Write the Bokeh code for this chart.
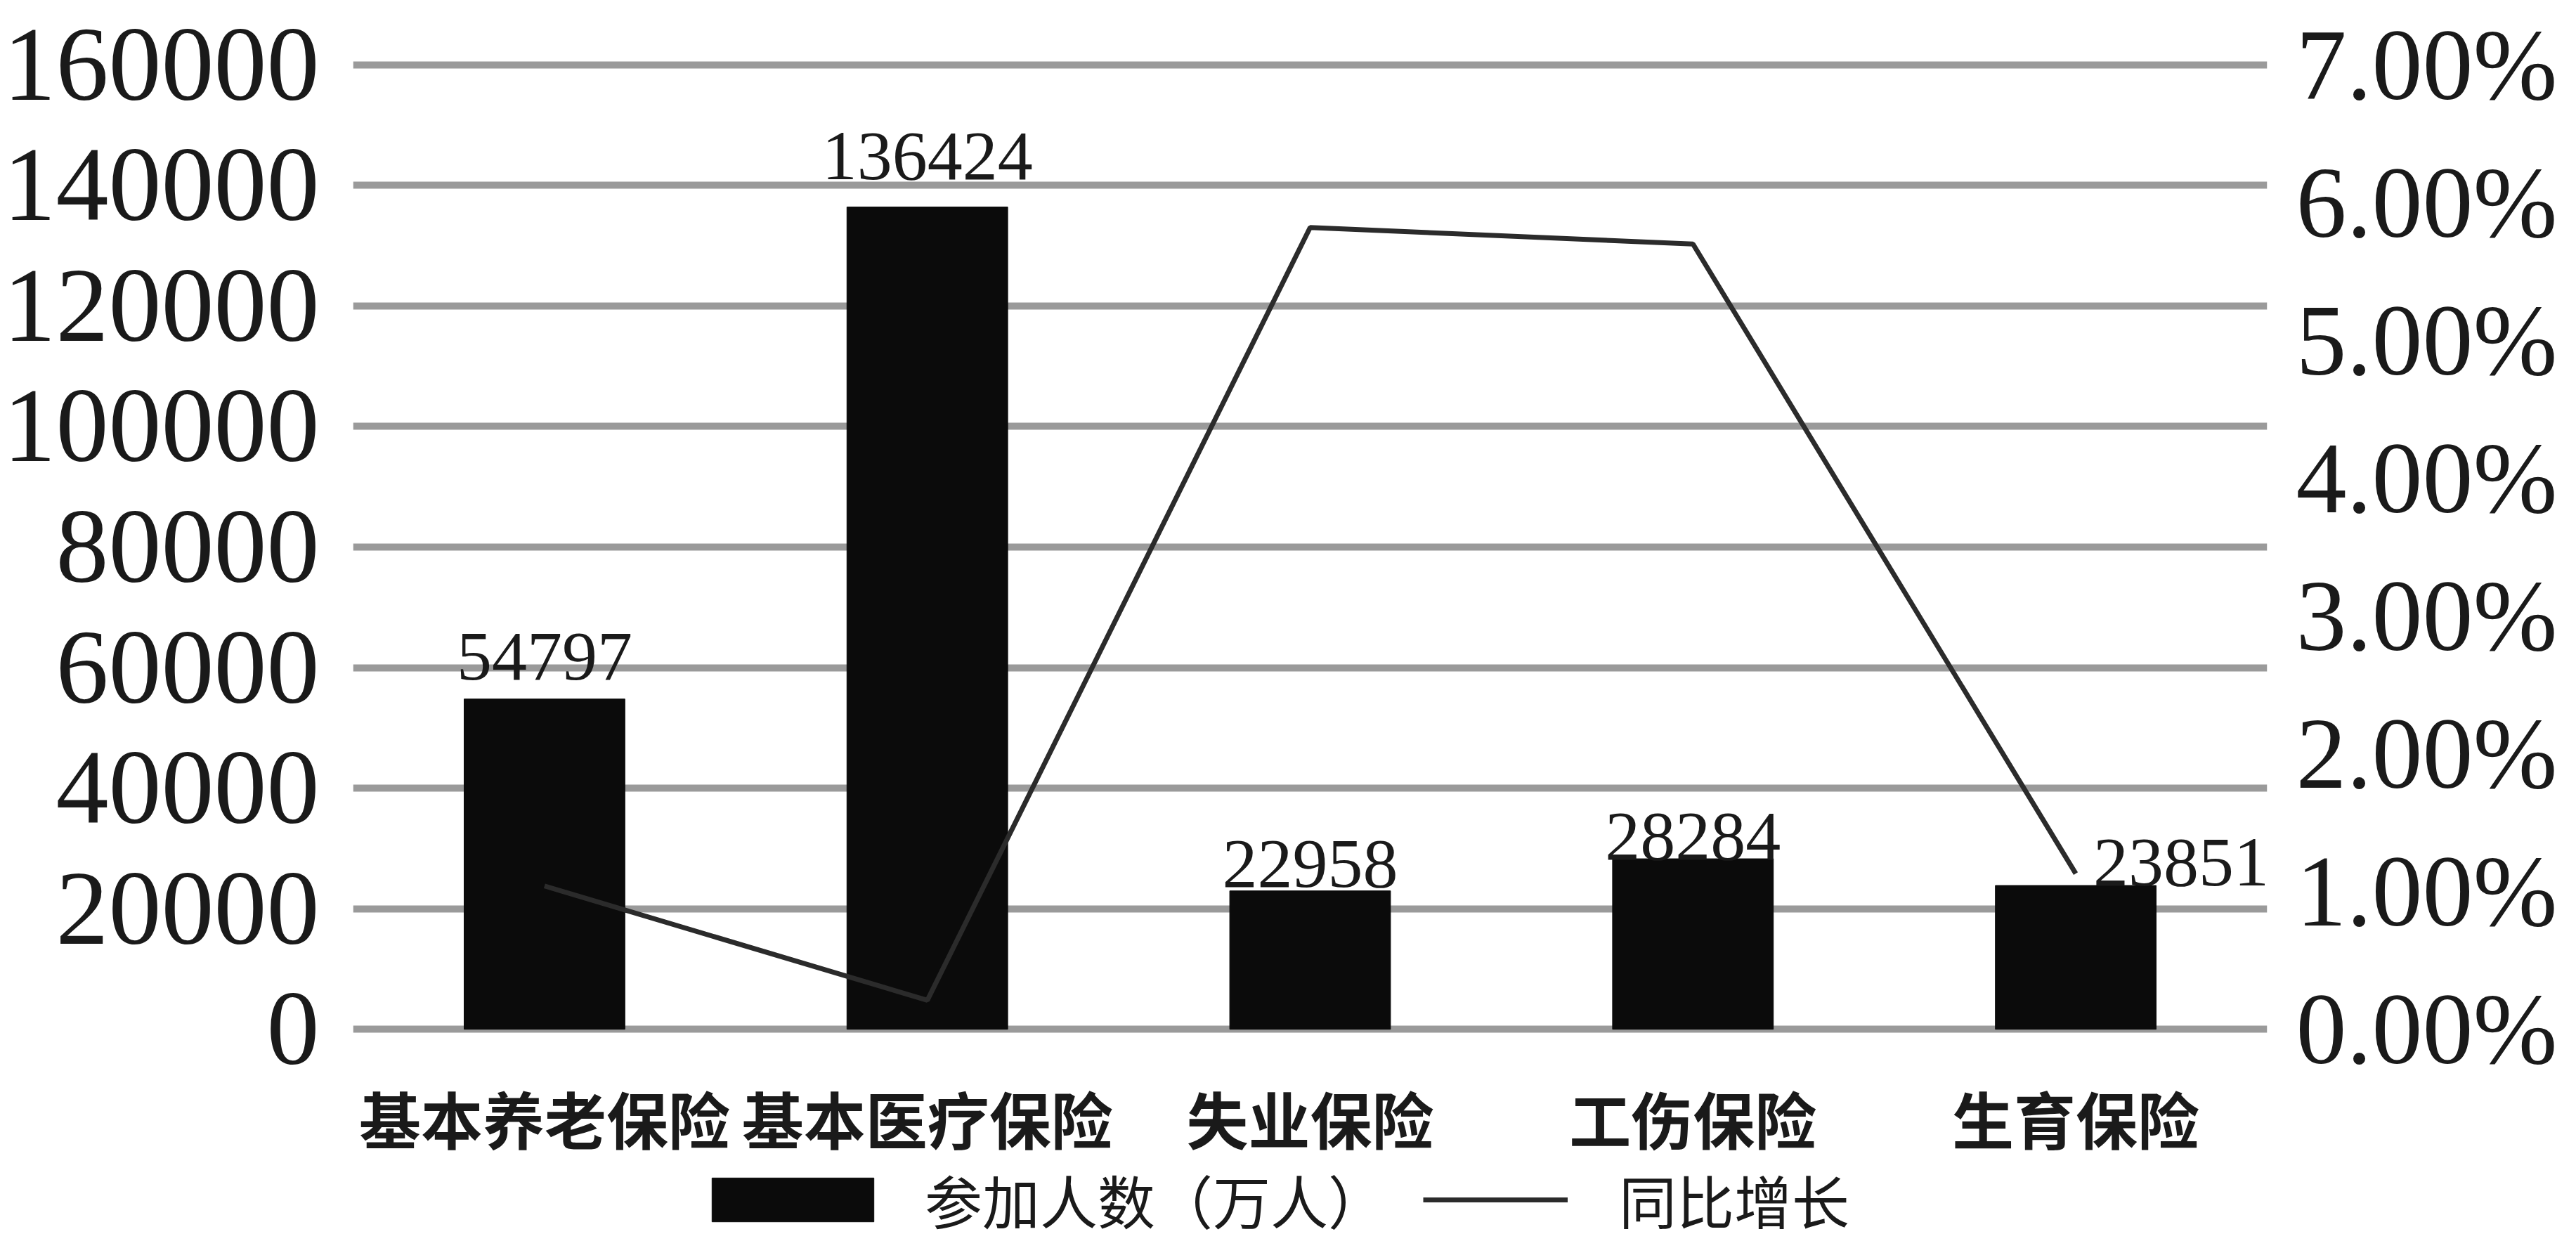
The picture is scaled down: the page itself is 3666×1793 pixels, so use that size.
from bokeh.plotting import figure
from bokeh.layouts import column
from bokeh.models import (Range1d, LinearAxis, FixedTicker, NumeralTickFormatter,
                          Legend, LegendItem, ColumnDataSource)
from bokeh.core.properties import value
from bokeh.embed import file_html
from bokeh.resources import INLINE

# ---- data ----
categories = ["基本养老保险", "基本医疗保险", "失业保险", "工伤保险", "生育保险"]
participants = [54797, 136424, 22958, 28284, 23851]      # 参加人数（万人）
growth_pct = [1.04, 0.21, 5.82, 5.70, 1.13]              # 同比增长 (%)
left_ticks = [0, 20000, 40000, 60000, 80000, 100000, 120000, 140000, 160000]
right_ticks_pct = [0, 1, 2, 3, 4, 5, 6, 7]
legend_labels = ["参加人数（万人）", "同比增长"]

# label placement (style only, screen px)
label_dx = [0, 0, 0, 0, 150]
label_dy = [-60, -72, -38, -32, -33]

BAR_COLOR = "#0b0b0b"
LINE_COLOR = "#2b2b2b"

src = ColumnDataSource(dict(
    cat=categories,
    val=participants,
    pct=[g / 100 for g in growth_pct],
    label=[str(v) for v in participants],
    dx=label_dx,
    dy=label_dy,
))

# small pad so that the 0 and 160000 grid lines are drawn
pad = 1500
ymax = left_ticks[-1]
pmax = right_ticks_pct[-1] / 100

p = figure(x_range=categories, y_range=Range1d(-pad, ymax + pad),
           width=3650, height=1665, output_backend="svg", toolbar_location=None,
           min_border_left=502, min_border_right=424, min_border_top=79,
           min_border_bottom=188)
p.extra_y_ranges = {"pct": Range1d(-pad / ymax * pmax, (ymax + pad) / ymax * pmax)}
p.outline_line_color = None
p.background_fill_color = "white"

bars = p.vbar(x="cat", top="val", bottom=0, width=0.42, source=src,
              fill_color=BAR_COLOR, line_color=BAR_COLOR)
line = p.line(x="cat", y="pct", y_range_name="pct", source=src,
              line_color=LINE_COLOR, line_width=7)

p.text(x="cat", y="val", text="label", source=src, x_offset="dx", y_offset="dy",
       text_align="center", text_baseline="alphabetic",
       text_font=value("Liberation Serif"), text_font_size="100px",
       text_color="#1a1a1a")

# left axis
yax = p.yaxis[0]
yax.ticker = FixedTicker(ticks=left_ticks)
yax.formatter = NumeralTickFormatter(format="0")
yax.major_label_text_font = "Liberation Serif"
yax.major_label_text_font_size = "150px"
yax.major_label_text_color = "#1a1a1a"
yax.major_label_standoff = 42
yax.axis_line_color = None
yax.major_tick_line_color = None
yax.minor_tick_line_color = None

# right axis
rax = LinearAxis(y_range_name="pct",
                 ticker=FixedTicker(ticks=[t / 100 for t in right_ticks_pct]),
                 formatter=NumeralTickFormatter(format="0.00%"))
rax.major_label_text_font = "Liberation Serif"
rax.major_label_text_font_size = "144px"
rax.major_label_text_color = "#1a1a1a"
rax.major_label_standoff = 35
rax.axis_line_color = None
rax.major_tick_line_color = None
rax.minor_tick_line_color = None
p.add_layout(rax, "right")

# x axis
xax = p.xaxis[0]
xax.major_label_text_font = "Noto Sans CJK SC"
xax.major_label_text_font_style = "bold"
xax.major_label_text_font_size = "88px"
xax.major_label_text_color = "#1a1a1a"
xax.major_label_standoff = 42
xax.axis_line_color = None
xax.major_tick_line_color = None
xax.minor_tick_line_color = None

p.xgrid.grid_line_color = None
p.ygrid.grid_line_color = "#9a9a9a"
p.ygrid.grid_line_width = 10

# ---- legend strip (separate figure below; its frame is aligned with p's) ----
lg = figure(x_range=categories, y_range=Range1d(-300000, -200000),
            width=3650, height=112, output_backend="svg", toolbar_location=None,
            x_axis_type=None, y_axis_type=None,
            min_border_left=502, min_border_right=424, min_border_top=0,
            min_border_bottom=0)
lg.outline_line_color = None
lg.grid.grid_line_color = None
# same series as key sources only (hidden); legend keys are still drawn
lbar = lg.vbar(x="cat", top="val", bottom=0, width=0.42, source=src,
               fill_color=BAR_COLOR, line_color=BAR_COLOR, visible=False)
lline = lg.line(x="cat", y="pct", source=src, line_color=LINE_COLOR,
                line_width=7, visible=False)

common = dict(orientation="horizontal", label_text_font="Noto Sans CJK SC",
              label_text_font_size="82px", label_text_color="#1a1a1a",
              padding=0, margin=0, border_line_color=None,
              background_fill_alpha=0, inactive_fill_alpha=0)
legend_bar = Legend(items=[LegendItem(label=legend_labels[0], renderers=[lbar])],
                    location=(482, 11), glyph_width=288, glyph_height=78,
                    label_standoff=44, **common)
legend_line = Legend(items=[LegendItem(label=legend_labels[1], renderers=[lline])],
                     location=(1523, 11), glyph_width=206, glyph_height=78,
                     label_standoff=73, **common)
lg.add_layout(legend_bar)
lg.add_layout(legend_line)

page = column(p, lg, spacing=0)
open("out.html", "w").write(file_html(page, INLINE))
